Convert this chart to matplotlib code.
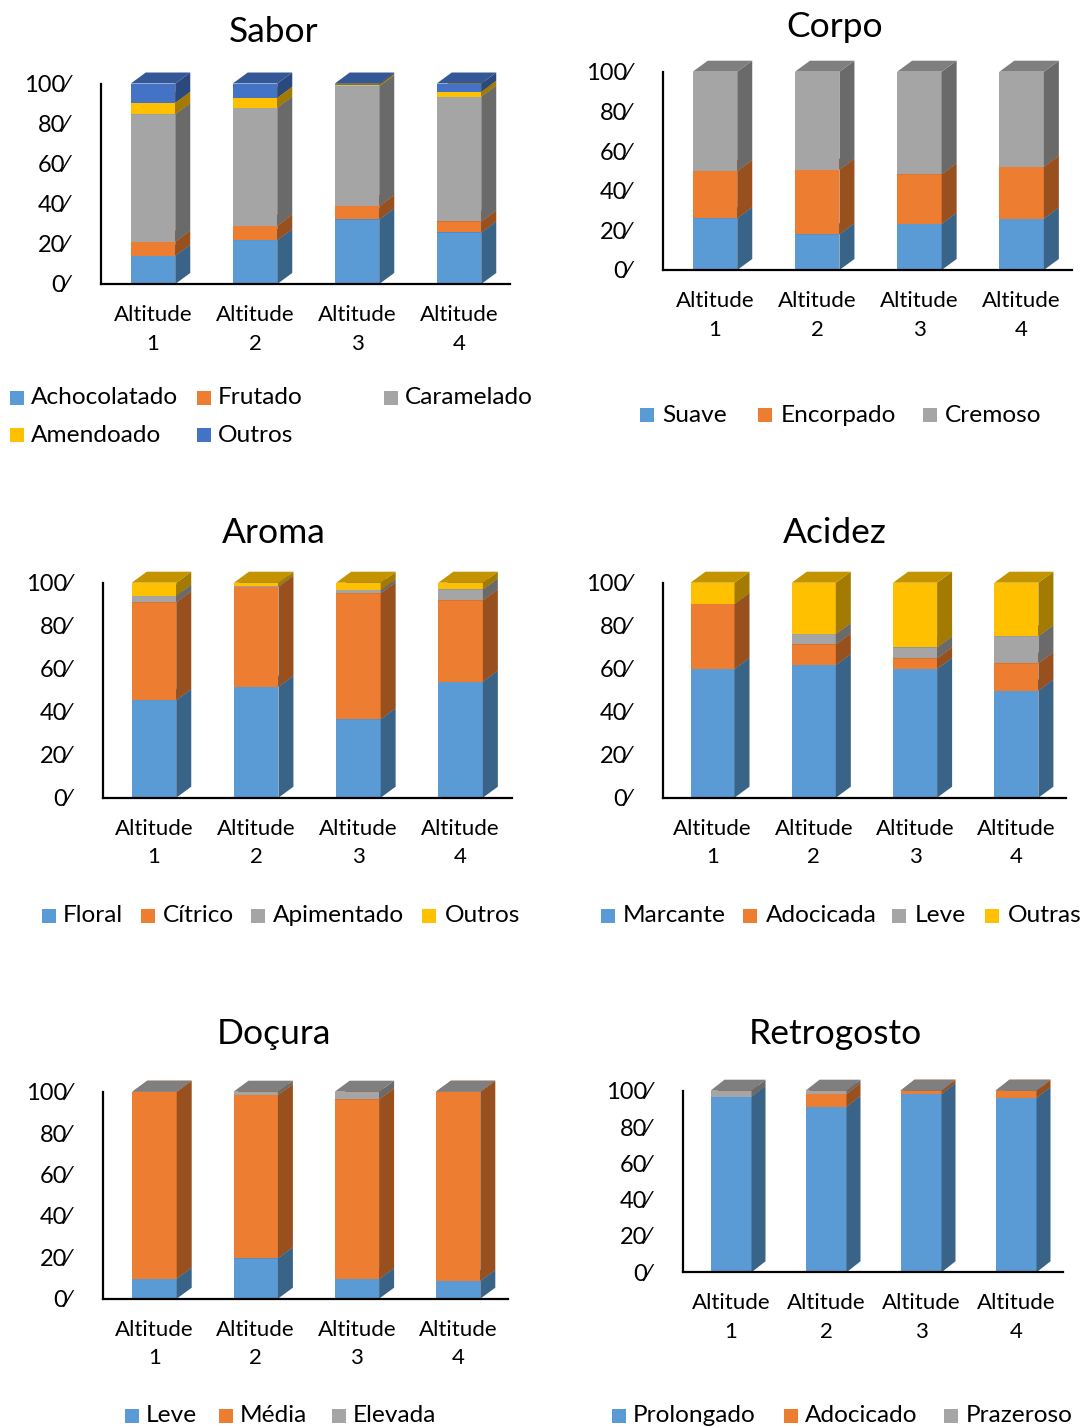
import matplotlib
matplotlib.use("Agg")
import matplotlib.pyplot as plt
from matplotlib.patches import Polygon, Rectangle
import numpy as np

plt.rcParams['font.family'] = ['Lato', 'DejaVu Sans']

W, H, DPI = 1083, 1428, 100

# ---- shared labels ----
altitudes = ["Altitude\n1", "Altitude\n2", "Altitude\n3", "Altitude\n4"]
yticks = [0, 20, 40, 60, 80, 100]
ytick_labels = ["0⁄", "20⁄", "40⁄", "60⁄", "80⁄", "100⁄"]

# ---- Sabor ----
sabor_series = ["Achocolatado", "Frutado", "Caramelado", "Amendoado", "Outros"]
sabor_achocolatado = [14.1, 21.9, 32.2, 25.7]
sabor_frutado = [7.0, 7.2, 6.7, 5.5]
sabor_caramelado = [63.6, 58.9, 59.8, 62.3]
sabor_amendoado = [5.7, 4.9, 0.7, 2.4]
sabor_outros = [9.6, 7.1, 0.6, 4.1]

# ---- Corpo ----
corpo_series = ["Suave", "Encorpado", "Cremoso"]
corpo_suave = [26.1, 18.0, 23.3, 25.9]
corpo_encorpado = [23.8, 32.6, 25.0, 26.2]
corpo_cremoso = [50.1, 49.4, 51.7, 47.9]

# ---- Aroma ----
aroma_series = ["Floral", "Cítrico", "Apimentado", "Outros"]
aroma_floral = [45.4, 51.6, 36.5, 54.0]
aroma_citrico = [45.5, 46.5, 58.6, 37.8]
aroma_apimentado = [3.1, 0.3, 1.5, 5.1]
aroma_outros = [6.0, 1.6, 3.4, 3.1]

# ---- Acidez ----
acidez_series = ["Marcante", "Adocicada", "Leve", "Outras"]
acidez_marcante = [59.9, 61.7, 59.9, 49.8]
acidez_adocicada = [30.2, 9.6, 4.9, 12.7]
acidez_leve = [0.0, 4.8, 5.1, 12.6]
acidez_outras = [9.9, 23.9, 30.1, 24.9]

# ---- Doçura ----
docura_series = ["Leve", "Média", "Elevada"]
docura_leve = [9.7, 19.5, 9.5, 8.6]
docura_media = [90.3, 78.9, 86.8, 91.4]
docura_elevada = [0.0, 1.6, 3.7, 0.0]

# ---- Retrogosto ----
retro_series = ["Prolongado", "Adocicado", "Prazeroso"]
retro_prolongado = [96.7, 91.2, 98.2, 96.0]
retro_adocicado = [0.0, 7.0, 1.8, 4.0]
retro_prazeroso = [3.3, 1.8, 0.0, 0.0]

BLUE, ORANGE, GRAY, YELLOW, DBLUE = "#5B9BD5", "#ED7D31", "#A5A5A5", "#FFC000", "#4472C4"


def shade(color, f):
    r, g, b = matplotlib.colors.to_rgb(color)
    return (r * f, g * f, b * f)


fig = plt.figure(figsize=(W / DPI, H / DPI), dpi=DPI)


def fx(px):
    return px / W


def fy(py):
    return 1 - py / H


def panel(title, title_xy, box, c0, sp, bw, depth, series, values, colors, legend):
    left, right, bottom, top = box
    ax = fig.add_axes([fx(left), fy(bottom), (right - left) / W, (bottom - top) / H])
    ax.set_xlim((left - c0) / sp, (right - c0) / sp)
    ax.set_ylim(0, 100)
    yscale = 100.0 / (bottom - top)
    ddx, ddy = depth[0] / sp, depth[1] * yscale
    hw = bw / sp / 2
    x = np.arange(len(values[0]))
    cum = np.zeros(len(x))
    z = 2
    for name, vals, col in zip(series, values, colors):
        vals = np.asarray(vals, dtype=float)
        ax.bar(x, vals, bottom=cum, width=2 * hw, color=col, zorder=z, linewidth=0)
        for xi, b, v in zip(x, cum, vals):
            t = b + v
            side = [(xi + hw, b), (xi + hw + ddx, b + ddy), (xi + hw + ddx, t + ddy), (xi + hw, t)]
            ax.add_patch(Polygon(side, closed=True, facecolor=shade(col, 0.64),
                                 edgecolor='none', zorder=z, clip_on=False))
            topf = [(xi - hw, t), (xi - hw + ddx, t + ddy), (xi + hw + ddx, t + ddy), (xi + hw, t)]
            ax.add_patch(Polygon(topf, closed=True, facecolor=shade(col, 0.77),
                                 edgecolor='none', zorder=z + 0.5, clip_on=False))
        cum = cum + vals
        z += 1
    for s in ("top", "right"):
        ax.spines[s].set_visible(False)
    for s in ("left", "bottom"):
        ax.spines[s].set_linewidth(1.6)
        ax.spines[s].set_color("black")
        ax.spines[s].set_zorder(20)
    ax.set_yticks(yticks, ytick_labels, fontsize=17)
    ax.set_xticks(x, altitudes, fontsize=16, linespacing=1.55)
    ax.tick_params(axis='y', length=0, pad=23.5)
    ax.tick_params(axis='x', length=0, pad=15)
    ax.set_facecolor('none')
    fig.text(fx(title_xy[0]), fy(title_xy[1]), title, fontsize=25.5, ha='center', va='center')
    for (sx, sy, tx), name, col in zip(legend, series, colors):
        fig.patches.append(Rectangle((fx(sx), fy(sy + 7)), 14 / W, 14 / H,
                                     transform=fig.transFigure, facecolor=col, edgecolor='none'))
        fig.text(fx(tx), fy(sy), name, fontsize=17.6, ha='left', va='center')
    return ax


panel("Sabor", (274, 32), (101, 510, 284, 83.5), 153, 102, 44.5, (15, 11),
      sabor_series,
      [sabor_achocolatado, sabor_frutado, sabor_caramelado, sabor_amendoado, sabor_outros],
      [BLUE, ORANGE, GRAY, YELLOW, DBLUE],
      [(10, 398, 31), (197, 398, 218), (384, 398, 405), (10, 435, 31), (197, 435, 218)])

panel("Corpo", (835, 27), (662.7, 1071.7, 270, 71.7), 715, 102.2, 44.5, (15, 11),
      corpo_series, [corpo_suave, corpo_encorpado, corpo_cremoso],
      [BLUE, ORANGE, GRAY],
      [(640, 415, 662), (758, 415, 781), (923, 415, 945)])

panel("Aroma", (274, 533), (102.7, 511.7, 797.7, 582.7), 154, 102.2, 44.5, (15, 11),
      aroma_series, [aroma_floral, aroma_citrico, aroma_apimentado, aroma_outros],
      [BLUE, ORANGE, GRAY, YELLOW],
      [(42, 916, 63), (141, 916, 163), (251, 916, 273), (422, 916, 445)])

panel("Acidez", (835, 533), (662.7, 1066, 797.7, 582.7), 712.5, 101.3, 44, (15, 11),
      acidez_series, [acidez_marcante, acidez_adocicada, acidez_leve, acidez_outras],
      [BLUE, ORANGE, GRAY, YELLOW],
      [(601, 916, 623), (743, 916, 766), (892, 916, 915), (985, 916, 1008)])

panel("Doçura", (274, 1034), (102.7, 508, 1298.7, 1091.7), 154.5, 101.2, 44.4, (15, 11),
      docura_series, [docura_leve, docura_media, docura_elevada],
      [BLUE, ORANGE, GRAY],
      [(125, 1416, 146), (219, 1416, 240), (332, 1416, 353)])

panel("Retrogosto", (835, 1034), (682.7, 1063.3, 1272.3, 1090.7), 731, 95, 41, (14, 11),
      retro_series, [retro_prolongado, retro_adocicado, retro_prazeroso],
      [BLUE, ORANGE, GRAY],
      [(612, 1416, 633), (784, 1416, 805), (944, 1416, 966)])

fig.savefig("out.png", dpi=DPI)
